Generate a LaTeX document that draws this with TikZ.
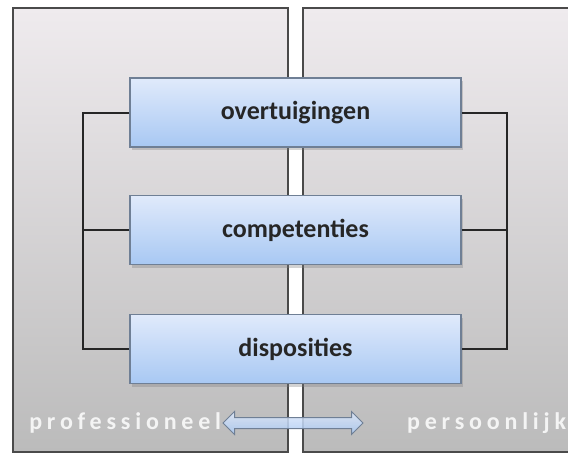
\documentclass[tikz,border=0pt]{standalone}
\usepackage{fontspec}
\setmainfont{Carlito}
\newfontfamily\spacedfont[LetterSpace=20]{Carlito}
\usetikzlibrary{positioning,shapes.arrows,shadows}
\definecolor{panelborder}{HTML}{4A4A4A}
\definecolor{paneltop}{HTML}{EFEBEE}
\definecolor{panelbottom}{HTML}{BBBBBB}
\definecolor{boxtop}{HTML}{E0EAFB}
\definecolor{boxbottom}{HTML}{A8C8F3}
\definecolor{boxborder}{HTML}{6F7F95}
\definecolor{sidetext}{HTML}{F4F4F4}
\begin{document}
\begin{tikzpicture}[x=1pt, y=-1pt,
                    panel/.style={draw=panelborder, line width=2.5pt, top color=paneltop, bottom color=panelbottom},
                    layer/.style={rectangle, draw=boxborder, line width=1.2pt, top color=boxtop, bottom color=boxbottom,
                                  minimum width=331pt, minimum height=69pt, font=\fontsize{26}{30}\selectfont\bfseries, text=black!85,
                                  drop shadow={shadow xshift=2pt, shadow yshift=-3pt, opacity=0.35}},
                    side/.style={font=\fontsize{24}{28}\selectfont\bfseries\spacedfont, text=sidetext, inner sep=0pt},
                    bracket/.style={draw=black!85, line width=2pt}
                ]
                \useasboundingbox (0,0) rectangle (568,455);
                \fill[white] (0,0) rectangle (568,455);
                % twee panelen
                \draw[panel] (13,8) rectangle (288,452);
                \draw[panel] (303,8) rectangle (574,452);
                % lagen
                \node[layer] (ov) at (295.5,112.5) {overtuigingen};
                \node[layer] (comp) at (295.5,230) {competenties};
                \node[layer] (disp) at (295.5,349) {disposities};
                % haken links en rechts
                \draw[bracket] (ov.west) -- ++(-46,0) |- (disp.west);
                \draw[bracket] (comp.west) -- ++(-46,0);
                \draw[bracket] (ov.east) -- ++(45,0) |- (disp.east);
                \draw[bracket] (comp.east) -- ++(45,0);
                % pijl onderaan
                \node[double arrow, draw=boxborder, line width=1pt, top color=boxtop, bottom color=boxbottom, fill opacity=0.85,
                      inner xsep=0pt, inner ysep=5pt, double arrow head extend=6pt, minimum height=140pt] (arr) at (293,423) {};
                \node[side, left=1pt of arr] (prof) {professioneel};
                \node[side, anchor=west] (pers) at (407,423) {persoonlijk};
\end{tikzpicture}
\end{document}
